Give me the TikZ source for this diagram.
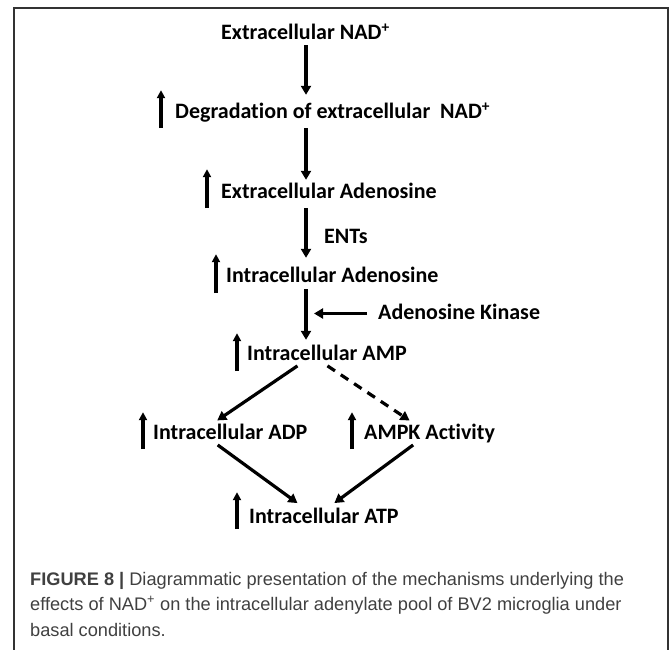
\documentclass[tikz,border=0pt]{standalone}
\usepackage{fontspec}
\setmainfont[Ligatures=NoCommon]{Carlito}
\newfontfamily\capfont{Liberation Sans}
\usetikzlibrary{arrows.meta}
\definecolor{capgray}{HTML}{404040}
\begin{document}
\begin{tikzpicture}[x=1pt,y=-1pt,
  lbl/.style={font=\fontsize{22}{26}\selectfont\bfseries, inner sep=0pt, text height=15pt, text depth=4pt, anchor=base west},
  flow/.style={line width=3.2pt, -{Triangle[length=9pt,width=10pt]}},
  uparr/.style={line width=3.2pt, -{Triangle[length=8pt,width=8pt]}},
  captxt/.style={font=\capfont\fontsize{18.2}{22}\selectfont, text=capgray, inner sep=0pt, anchor=base west}]
\useasboundingbox (0,0) rectangle (672,650);
\draw[line width=1.2pt, black!80] (14,650) -- (14,8) -- (668,8) -- (668,650);

\node[lbl] (n1) at (221,40) {Extracellular NAD\textsuperscript{+}};
\node[lbl] (n2) at (175,119) {Degradation of extracellular\ \ NAD\textsuperscript{+}};
\node[lbl] (n3) at (221,198) {Extracellular Adenosine};
\node[lbl] (ents) at (324,243) {ENTs};
\node[lbl] (n4) at (226,282) {Intracellular Adenosine};
\node[lbl] (ak) at (378,319) {Adenosine Kinase};
\node[lbl] (n5) at (247,360) {Intracellular AMP};
\node[lbl] (n6) at (153,439) {Intracellular ADP};
\node[lbl] (n7) at (364,439) {AMPK Activity};
\node[lbl] (n8) at (249,523) {Intracellular ATP};

% spine
\coordinate (sp) at (306,0);
\draw[flow, shorten <=1pt, shorten >=9pt] (sp |- n1.south) -- (sp |- n2.north);
\draw[flow, shorten <=5pt, shorten >=3pt] (sp |- n2.south) -- (sp |- n3.north);
\draw[flow, shorten <=6pt, shorten >=9pt] (sp |- n3.south) -- (sp |- n4.north);
\draw[flow, shorten <=3pt, shorten >=5pt] (sp |- n4.south) -- (sp |- n5.north);
\draw[flow, shorten <=11pt, shorten >=8pt] (ak.west) -- (ak.west -| sp);

% diagonals
\draw[flow, shorten <=3pt, shorten >=6pt] ([xshift=-27pt]n5.south) -- ([xshift=-18pt]n6.north);
\draw[flow, dash pattern=on 9pt off 7pt, shorten <=3pt, shorten >=6pt] ([xshift=-2pt]n5.south) -- ([xshift=-15pt]n7.north);
\draw[flow, shorten <=3pt, shorten >=8pt] ([xshift=-15pt]n6.south) -- ([xshift=-20pt]n8.north);
\draw[flow, shorten <=3pt, shorten >=8pt] ([xshift=-14pt]n7.south) -- ([xshift=4pt]n8.north);

% increase marks
\draw[uparr] ([xshift=-14pt]n2.south west) ++(0,5) -- ++(0,-38);
\draw[uparr] ([xshift=-14pt]n3.south west) ++(0,6) -- ++(0,-39);
\draw[uparr] ([xshift=-10pt]n4.south west) ++(0,7) -- ++(0,-39);
\draw[uparr] ([xshift=-10pt]n5.south west) ++(0,7) -- ++(0,-38);
\draw[uparr] ([xshift=-10pt]n6.south west) ++(0,6) -- ++(0,-37);
\draw[uparr] ([xshift=-12pt]n7.south west) ++(0,6) -- ++(0,-37);
\draw[uparr] ([xshift=-12pt]n8.south west) ++(0,2) -- ++(0,-37);

% caption
\node[captxt] (c1) at (30,585) {\textbf{FIGURE 8 |} Diagrammatic presentation of the mechanisms underlying the};
\node[captxt] (c2) at (30,610) {effects of NAD\textsuperscript{+} on the intracellular adenylate pool of BV2 microglia under};
\node[captxt] (c3) at (30,636) {basal conditions.};
\end{tikzpicture}
\end{document}
